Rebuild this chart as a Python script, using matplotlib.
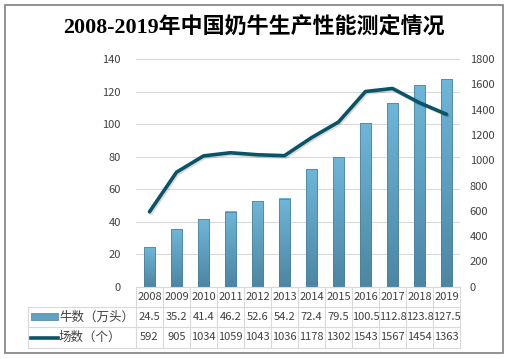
import numpy as np
import matplotlib
matplotlib.use("Agg")
import matplotlib.pyplot as plt
import matplotlib.patheffects as pe
from matplotlib.patches import Rectangle
from matplotlib.lines import Line2D
from matplotlib.colors import LinearSegmentedColormap

plt.rcParams['font.family'] = ['Noto Sans CJK SC', 'DejaVu Sans']

years = ["2008", "2009", "2010", "2011", "2012", "2013",
         "2014", "2015", "2016", "2017", "2018", "2019"]
cows = [24.5, 35.2, 41.4, 46.2, 52.6, 54.2, 72.4, 79.5, 100.5, 112.8, 123.8, 127.5]
farms = [592, 905, 1034, 1059, 1043, 1036, 1178, 1302, 1543, 1567, 1454, 1363]
cow_labels = ["24.5", "35.2", "41.4", "46.2", "52.6", "54.2", "72.4", "79.5",
              "100.5", "112.8", "123.8", "127.5"]
title = "2008-2019年中国奶牛生产性能测定情况"
name_cows = "牛数（万头）"
name_farms = "场数（个）"

W, H = 508, 359
fig = plt.figure(figsize=(W / 100, H / 100), dpi=100)

# outer border
fig.patches.append(Rectangle((5 / W, 1 - 353 / H), 498 / W, 348 / H, transform=fig.transFigure,
                             fill=False, edgecolor="#808080", linewidth=1.2))

left, right, bottom, top = 136, 460, 286.7, 59
ax = fig.add_axes([left / W, 1 - bottom / H, (right - left) / W, (bottom - top) / H])
ax2 = ax.twinx()

x = np.arange(len(years))
bw = 0.42
grad = np.linspace(0, 1, 64).reshape(-1, 1)
cmap = LinearSegmentedColormap.from_list("b", ["#6eb6d8", "#4c86a3"])
bars = ax.bar(x, cows, width=bw, color="#5fa2c3", edgecolor="#4a7f99", linewidth=0.5, zorder=2)
for b in bars:
    x0, y0 = b.get_x(), b.get_y()
    ax.imshow(grad, extent=(x0, x0 + b.get_width(), y0, y0 + b.get_height()),
              cmap=cmap, aspect="auto", zorder=2.5)
    ax.add_patch(Rectangle((x0, y0), b.get_width(), b.get_height(), fill=False,
                           edgecolor="#4a7f99", linewidth=0.5, zorder=2.6))
ax.set_xlim(-0.5, len(years) - 0.5)
ax.set_ylim(0, 140)

ax2.set_ylim(0, 1800)
ax2.plot(x, farms, color="#0b5468", linewidth=2.6, solid_capstyle="round",
         path_effects=[pe.SimpleLineShadow(offset=(1, -1), alpha=0.15), pe.Normal()], zorder=3)

ax.set_yticks(range(0, 141, 20))
ax2.set_yticks(range(0, 1801, 200))
ax.yaxis.grid(True, color="#d9d9d9", linewidth=0.8)
ax.set_axisbelow(True)
for a in (ax, ax2):
    for s in a.spines.values():
        s.set_visible(False)
    a.tick_params(axis="both", length=0, labelsize=8, labelcolor="#404040")
ax.tick_params(axis="y", pad=11)
ax2.tick_params(axis="y", pad=7)
ax.set_xticks([])

# data table under the plot
tc = "#d9d9d9"
rows = [286.7, 306.7, 327.0, 348.0]
leg_left = 28
def fy(py):
    return 1 - py / H
def fx_data(v):
    disp = ax.transData.transform((v, 0))
    return fig.transFigure.inverted().transform(disp)[0]

edges = [fx_data(v) for v in np.arange(-0.5, len(years), 1.0)]
fig.add_artist(Line2D([edges[0], edges[-1]], [fy(rows[0])] * 2, color=tc, lw=0.8))
for r in rows[1:]:
    fig.add_artist(Line2D([leg_left / W, edges[-1]], [fy(r)] * 2, color=tc, lw=0.8))
for e in edges:
    fig.add_artist(Line2D([e, e], [fy(rows[0]), fy(rows[3])], color=tc, lw=0.8))
fig.add_artist(Line2D([leg_left / W] * 2, [fy(rows[1]), fy(rows[3])], color=tc, lw=0.8))

centers = [(edges[i] + edges[i + 1]) / 2 for i in range(len(years))]
row_vals = [years, cow_labels, [str(v) for v in farms]]
for ri, vals in enumerate(row_vals):
    yc = fy((rows[ri] + rows[ri + 1]) / 2)
    for c, t in zip(centers, vals):
        fig.text(c, yc, t, ha="center", va="center", fontsize=8, color="#404040")

# legend keys
y1 = fy((rows[1] + rows[2]) / 2)
y2 = fy((rows[2] + rows[3]) / 2)
kx0, kx1 = 31 / W, 58 / W
fig.patches.append(Rectangle((kx0, y1 - 3.5 / H), kx1 - kx0, 7 / H, transform=fig.transFigure,
                             facecolor="#5fa2c3", edgecolor="#4a7f99", linewidth=0.5))
fig.add_artist(Line2D([kx0, kx1], [y2, y2], color="#0b5468", lw=2.6))
fig.text(59 / W, y1, name_cows, ha="left", va="center", fontsize=9, color="#404040")
fig.text(59 / W, y2, name_farms, ha="left", va="center", fontsize=9, color="#404040")

fig.text(0.5, 1 - 27 / H, title, ha="center", va="center", fontsize=15.8, fontweight="bold",
         color="#000000", family=["Liberation Serif", "Noto Sans CJK SC"])

fig.savefig("out.png", dpi=100)
